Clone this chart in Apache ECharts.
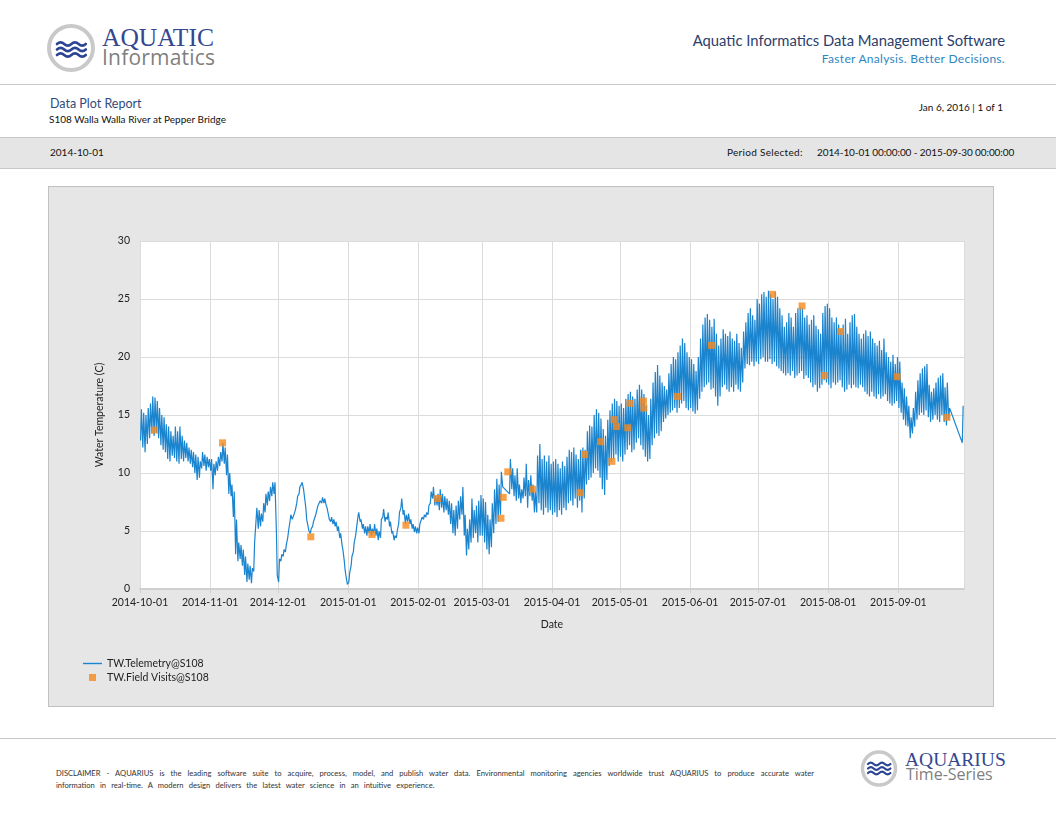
<!DOCTYPE html>
<html lang="en">
<head>
<meta charset="UTF-8">
<title>Data Plot Report</title>
<script src="https://cdn.jsdelivr.net/npm/echarts@6.0.0/dist/echarts.min.js"></script>
<style>
    html, body {
        margin: 0;
        padding: 0;
        width: 1056px;
        height: 816px;
        background: #fff;
        overflow: hidden;
        font-family: Lato, "Open Sans", sans-serif;
        color: #222;
    }

    .abs {
        position: absolute;
        white-space: nowrap;
        line-height: 1;
    }

    .rule {
        position: absolute;
        left: 0;
        width: 1056px;
        height: 0;
        border-top: 1px solid #c8c8c8;
    }

    #band {
        position: absolute;
        left: 0;
        top: 137px;
        width: 1056px;
        height: 30px;
        background: #e5e5e5;
        border-top: 1px solid #c8c8c8;
        border-bottom: 1px solid #c8c8c8;
    }

    #chart {
        position: absolute;
        left: 48px;
        top: 186px;
        width: 944px;
        height: 519px;
        background: #e6e6e6;
        border: 1px solid #c0c0c0;
    }
</style>
</head>

<body>
<!-- logos -->
<svg class="abs" style="left:0;top:0" width="1056" height="816">
    <circle cx="71" cy="48" r="22" fill="#fff" stroke="#c9c9c9" stroke-width="4"/>
    <g fill="none" stroke="#2b4494" stroke-width="2.6" stroke-linecap="round">
        <path d="M57 44 q3.6 -3.4 7.2 0 t7.2 0 t7.2 0 t7.2 0"/>
        <path d="M57 49.5 q3.6 -3.4 7.2 0 t7.2 0 t7.2 0 t7.2 0"/>
        <path d="M57 55 q3.6 -3.4 7.2 0 t7.2 0 t7.2 0 t7.2 0"/>
    </g>
    <circle cx="879" cy="768.5" r="16.5" fill="#fff" stroke="#c9c9c9" stroke-width="3.5"/>
    <g fill="none" stroke="#2b4494" stroke-width="2.2" stroke-linecap="round">
        <path d="M868 764 q2.8 -2.8 5.6 0 t5.6 0 t5.6 0 t5.6 0"/>
        <path d="M868 768.5 q2.8 -2.8 5.6 0 t5.6 0 t5.6 0 t5.6 0"/>
        <path d="M868 773 q2.8 -2.8 5.6 0 t5.6 0 t5.6 0 t5.6 0"/>
    </g>
</svg>

<div class="abs" style="left:102px;top:25px;font-family:'Liberation Serif',serif;font-size:25.5px;color:#34478f;">AQUATIC</div>
<div class="abs" style="left:102px;top:47px;font-family:'Open Sans',sans-serif;font-size:21px;color:#7f7f7f;letter-spacing:0.2px;">Informatics</div>

<div class="abs" style="right:51px;top:33px;font-size:14.8px;color:#2c3e6b;">Aquatic Informatics Data Management Software</div>
<div class="abs" style="right:51px;top:53px;font-size:12px;color:#2e86c1;letter-spacing:0.3px;">Faster Analysis. Better Decisions.</div>

<div class="rule" style="top:84px"></div>

<div class="abs" style="left:50px;top:98px;font-size:12.5px;color:#2f4b7c;">Data Plot Report</div>
<div class="abs" style="left:49px;top:114px;font-size:10px;color:#111;">S108 Walla Walla River at Pepper Bridge</div>
<div class="abs" style="right:53px;top:102px;font-size:10px;color:#111;">Jan 6, 2016 | 1 of 1</div>

<div id="band"></div>
<div class="abs" style="left:50px;top:147px;font-size:10px;color:#111;">2014-10-01</div>
<div class="abs" style="left:727px;top:147px;font-size:10px;color:#111;letter-spacing:0.3px;">Period Selected:</div>
<div class="abs" style="left:817px;top:147px;font-size:10px;color:#111;letter-spacing:-0.1px;">2014-10-01 00:00:00 - 2015-09-30 00:00:00</div>

<div id="chart"></div>

<div class="rule" style="top:738px"></div>

<div class="abs" style="left:56px;top:770px;width:758px;font-size:7.6px;color:#333;text-align:justify;text-align-last:justify;white-space:normal;">DISCLAIMER - AQUARIUS is the leading software suite to acquire, process, model, and publish water data. Environmental monitoring agencies worldwide trust AQUARIUS to produce accurate water</div>
<div class="abs" style="left:56px;top:782px;font-size:7.6px;color:#333;word-spacing:3.2px;">information in real-time. A modern design delivers the latest water science in an intuitive experience.</div>

<div class="abs" style="left:905px;top:750px;font-family:'Liberation Serif',serif;font-size:19.5px;color:#34478f;">AQUARIUS</div>
<div class="abs" style="left:906px;top:766px;font-family:'Open Sans',sans-serif;font-size:16px;color:#7f7f7f;">Time-Series</div>

<script type="text/javascript">
    // 06:00 and 15:00 readings for each day, 2014-10-01 .. 2015-09-30 (null = no data)
    var amTemps = [
        // Oct
        12.8, 12.2, 11.8, 12.5, 13.0, 13.4, 13.2, 13.5, 13.0, 12.4, 12.0, 11.8, 11.2, 11.0, 11.5, 11.3, 11.0, 10.8, 11.2, 11.0, 11.3, 11.0, 10.8, 10.5, 10.0, 9.4, 9.6, 10.4, 10.6, 10.2, 10.5,
        // Nov
        10.2, 8.6, 9.8, 10.2, 10.6, 11.0, 10.8, 9.8, 8.2, 8.0, 6.2, 3.0, 2.4, 2.6, 2.0, 1.2, 0.6, 0.8, 0.5, 1.5, 4.0, 5.2, 5.4, 5.8, 6.6, 7.2, 7.6, 8.0, 8.2, 5.0,
        // Dec
        0.6, 2.4, 2.8, 3.2, 4.4, 5.8, 6.0, 6.2, 7.4, 8.2, 9.0, 8.6, 7.0, 5.4, 4.8, 5.4, 5.8, 6.4, 7.2, 7.4, 7.4, 7.2, 6.4, 5.8, 5.6, 5.4, 5.0, 4.4, 3.8, 2.4, 0.8,
        // Jan
        0.6, 2.0, 3.2, 4.6, 6.2, 5.8, 5.2, 4.8, 4.6, 4.8, 4.6, 4.8, 4.6, 4.2, 4.4, 6.2, 5.8, 6.0, 5.4, 4.8, 4.2, 4.4, 5.6, 7.0, 6.4, 5.6, 5.8, 5.6, 5.2, 4.9, 4.8,
        // Feb
        4.8, 5.6, 6.0, 6.2, 6.4, 7.4, 7.8, 7.2, 7.2, 6.8, 7.0, 6.6, 6.8, 6.4, 5.6, 4.8, 4.6, 5.2, 6.0, 6.4, 4.6, 2.9, 3.4, 4.0, 4.4, 4.8, 4.0, 4.6,
        // Mar
        4.6, 4.0, 3.4, 3.0, 3.6, 4.8, 5.6, 5.8, 6.4, 8.8, null, null, 8.2, 8.6, 8.0, 7.6, 7.8, 7.4, 7.8, 8.0, 7.0, 8.0, 7.6, 6.6, 6.6, 7.4, 6.8, 6.4, 7.0, 6.6, 6.8,
        // Apr
        6.4, 6.6, 6.2, 6.8, 6.4, 7.0, 6.8, 7.4, 7.6, 7.2, 7.8, 7.0, 7.6, 6.6, 7.8, 9.0, 9.4, 9.6, 10.0, 10.4, 10.2, 9.6, 8.6, 8.1, 9.4, 10.6, 11.0, 11.2, 11.6, 11.0,
        // May
        11.4, 11.0, 11.6, 12.0, 12.4, 11.8, 12.0, 12.6, 13.0, 12.4, 12.0, 11.4, 11.0, 11.2, 12.4, 13.0, 13.4, 13.2, 13.6, 14.4, 14.7, 15.0, 15.2, 15.4, 15.6, 15.2, 15.6, 16.0, 16.2, 15.6, 15.4,
        // Jun
        15.6, 15.3, 15.1, 15.4, 16.4, 17.0, 17.4, 17.6, 17.8, 17.2, 17.3, 16.6, 15.8, 16.6, 17.4, 17.6, 17.2, 17.0, 17.4, 17.0, 17.6, 17.2, 17.0, 17.8, 19.0, 19.4, 19.3, 19.6, 19.2, 19.6,
        // Jul
        19.4, 19.8, 20.0, 19.6, 19.6, 19.8, 19.4, 19.6, 19.2, 19.0, 18.8, 18.6, 18.4, 18.6, 18.4, 18.8, 18.2, 18.4, 18.6, 18.8, 18.1, 18.4, 18.2, 17.8, 17.4, 17.6, 17.0, 17.3, 17.6, 18.0, 17.8,
        // Aug
        17.6, 17.3, 17.8, 17.6, 17.8, 18.0, 17.4, 17.0, 17.2, 17.6, 17.3, 17.6, 17.4, 17.3, 17.6, 17.4, 17.0, 16.8, 16.6, 17.0, 16.6, 16.4, 16.8, 16.4, 16.6, 16.8, 16.2, 16.0, 15.8, 16.0, 16.2,
        // Sep
        15.6, 15.2, 14.6, 14.1, 14.0, 13.0, 13.4, 14.0, 14.6, 15.0, 15.2, 15.0, 15.4, 14.8, 14.4, 14.6, 15.0, 14.6, 14.4, 15.0, 14.4, 14.1, 14.6, null, null, null, null, null, 12.6, null
    ];

    var pmTemps = [
        // Oct
        15.5, 15.2, 15.0, 15.6, 16.0, 16.6, 16.5, 16.2, 15.6, 15.0, 14.8, 14.2, 14.0, 13.6, 13.2, 14.0, 13.6, 14.0, 13.2, 12.8, 12.6, 12.2, 12.0, 11.8, 11.6, 11.4, 11.0, 11.8, 11.6, 11.4, 11.2,
        // Nov
        11.2, 10.8, 11.0, 11.4, 11.8, 12.6, 12.2, 11.6, 10.0, 9.0, 8.4, 6.0, 4.0, 3.8, 3.4, 2.8, 2.2, 2.0, 1.8, 4.0, 7.0, 6.8, 6.5, 7.4, 8.2, 8.4, 8.8, 9.2, 9.2, 1.2,
        // Dec
        2.6, 3.0, 3.4, 3.8, 5.0, 6.4, 6.2, 6.8, 8.0, 8.8, 9.2, 8.0, 6.0, 5.0, 5.2, 5.8, 6.4, 7.2, 7.6, 7.9, 7.8, 7.0, 6.0, 6.2, 6.0, 5.8, 5.4, 4.8, 3.4, 1.6, 0.4,
        // Jan
        1.4, 2.8, 4.0, 5.2, 6.6, 6.0, 5.6, 5.4, 5.4, 5.6, 5.2, 5.6, 5.2, 5.0, 6.0, 6.9, 6.2, 6.6, 5.8, 5.0, 4.6, 5.0, 6.6, 7.8, 6.8, 6.4, 6.5, 6.0, 5.6, 5.4, 5.3,
        // Feb
        5.6, 6.2, 6.4, 6.6, 7.2, 8.4, 8.8, 8.0, 8.2, 8.6, 8.2, 8.0, 7.8, 7.6, 7.4, 6.8, 7.2, 7.6, 8.0, 8.8, 6.4, 5.2, 6.0, 7.8, 6.8, 7.2, 7.6, 8.1,
        // Mar
        7.8, 7.5, 6.4, 6.0, 7.4, 8.6, 9.5, 9.0, 10.1, null, null, null, 11.2, 10.4, 9.8, 10.4, 9.0, 8.6, 9.6, 10.8, 9.4, 9.8, 9.0, 8.4, 11.5, 12.5, 11.2, 11.5, 11.0, 11.5, 10.8,
        // Apr
        11.0, 11.2, 10.8, 10.4, 11.0, 10.6, 11.4, 12.0, 11.8, 12.2, 11.6, 11.2, 12.0, 12.2, 12.0, 13.6, 14.1, 14.0, 15.0, 15.5, 15.2, 14.7, 13.8, 13.2, 14.6, 15.4, 16.0, 16.4, 16.2, 15.8,
        // May
        16.0, 15.6, 16.4, 16.8, 17.0, 16.6, 16.4, 17.2, 17.6, 17.2, 16.8, 15.8, 15.0, 16.4, 17.8, 18.7, 19.3, 18.4, 17.8, 17.5, 17.2, 18.6, 19.4, 20.0, 19.8, 20.4, 21.0, 21.6, 21.2, 20.4, 20.0,
        // Jun
        19.8, 19.4, 18.8, 20.0, 21.6, 22.8, 23.4, 23.7, 23.2, 22.6, 23.3, 22.0, 21.0, 21.6, 22.4, 22.0, 21.8, 22.2, 21.6, 21.4, 22.0, 21.2, 20.8, 22.2, 23.0, 23.8, 24.2, 23.6, 23.2, 25.0,
        // Jul
        24.6, 25.4, 25.6, 25.2, 25.7, 25.4, 25.0, 25.6, 25.2, 24.2, 23.6, 22.6, 23.0, 23.8, 23.4, 22.6, 23.8, 24.2, 24.3, 24.2, 23.4, 23.6, 22.8, 23.2, 23.6, 22.7, 22.4, 22.0, 23.8, 24.4, 24.6,
        // Aug
        24.2, 23.4, 23.0, 23.4, 22.8, 22.4, 22.8, 23.3, 22.0, 23.0, 23.6, 23.7, 22.6, 22.0, 21.6, 22.0, 22.3, 21.8, 22.2, 21.6, 21.2, 21.0, 21.4, 20.6, 21.6, 20.4, 20.0, 19.6, 20.2, 19.4, 20.0,
        // Sep
        19.6, 17.8, 17.3, 16.6, 15.8, 14.8, 15.6, 17.0, 18.0, 18.6, 19.0, 19.2, 19.4, 17.6, 17.0, 17.3, 17.8, 18.2, 18.4, 18.6, 17.4, 17.8, 15.6, null, null, null, null, null, 15.8, null
    ];

    // field visit measurements
    var visitTimes = [
        '2014-10-07 10:00', '2014-11-06 11:00', '2014-12-15 11:00', '2015-01-11 11:00', '2015-01-26 11:00',
        '2015-02-09 11:00', '2015-03-09 11:00', '2015-03-10 11:00', '2015-03-12 11:00', '2015-03-23 11:00',
        '2015-04-13 11:00', '2015-04-15 11:00', '2015-04-22 11:00', '2015-04-27 11:00', '2015-04-28 11:00',
        '2015-04-29 11:00', '2015-05-04 11:00', '2015-05-05 11:00', '2015-05-11 10:00', '2015-05-11 14:00',
        '2015-05-26 11:00', '2015-06-10 11:00', '2015-07-07 11:00', '2015-07-20 11:00', '2015-07-30 11:00',
        '2015-08-06 11:00', '2015-08-31 11:00', '2015-09-22 11:00'
    ];
    var visitValues = [
        13.7, 12.6, 4.5, 4.7, 5.5,
        7.8, 6.1, 7.9, 10.1, 8.6,
        8.3, 11.6, 12.7, 11.0, 14.6,
        14.0, 13.9, 16.0, 16.2, 15.6,
        16.6, 21.0, 25.4, 24.4, 18.4,
        22.2, 18.3, 14.8
    ];

    var DAY = 24 * 3600 * 1000;

    var telemetry = [];
    for (var i = 0; i < amTemps.length; i++) {
        if (amTemps[i] != null) telemetry.push([new Date(2014, 9, 1 + i, 6).getTime(), amTemps[i]]);
        if (pmTemps[i] != null) telemetry.push([new Date(2014, 9, 1 + i, 15).getTime(), pmTemps[i]]);
    }

    var visits = visitTimes.map(function (t, k) {
        return [t, visitValues[k]];
    });

    function pad(n) {
        return n < 10 ? '0' + n : '' + n;
    }

    var myChart = echarts.init(document.getElementById('chart'));

    var option = {
        animation: false,
        textStyle: { fontFamily: 'Lato' },
        grid: {
            left: 91,
            right: 29,
            top: 54,
            bottom: 117,
            show: true,
            backgroundColor: '#fff',
            borderWidth: 0
        },
        legend: [
            {
                // thin bar stands in for the line sample
                data: [{ name: 'TW.Telemetry@S108', icon: 'rect' }],
                left: 34,
                top: 471,
                padding: 0,
                itemWidth: 19,
                itemHeight: 1.4,
                textStyle: { fontSize: 10.5, color: '#222' }
            },
            {
                data: [{ name: 'TW.Field Visits@S108', icon: 'rect' }],
                left: 40,
                top: 485,
                padding: 0,
                itemWidth: 7,
                itemHeight: 7,
                textStyle: { fontSize: 10.5, color: '#222', padding: [0, 0, 0, 6] }
            }
        ],
        xAxis: {
            type: 'time',
            min: new Date(2014, 9, 1).getTime(),
            max: new Date(2015, 8, 30).getTime(),
            minInterval: 28 * DAY,
            maxInterval: 31 * DAY,
            name: 'Date',
            nameLocation: 'middle',
            nameGap: 30,
            nameTextStyle: { fontSize: 10.5, color: '#222' },
            axisLine: { lineStyle: { color: '#cfcfcf', width: 2 } },
            axisTick: { show: true, length: 4, lineStyle: { color: '#cfcfcf' } },
            splitLine: { show: true, lineStyle: { color: '#dcdcdc' } },
            axisLabel: {
                fontSize: 10.5,
                color: '#222',
                margin: 8,
                formatter: function (v) {
                    var d = new Date(v);
                    return d.getFullYear() + '-' + pad(d.getMonth() + 1) + '-' + pad(d.getDate());
                }
            }
        },
        yAxis: {
            type: 'value',
            min: 0,
            max: 30,
            interval: 5,
            name: 'Water Temperature (C)',
            nameLocation: 'middle',
            nameGap: 35,
            nameTextStyle: { fontSize: 10.5, color: '#222' },
            axisLine: { show: true, lineStyle: { color: '#dcdcdc' } },
            axisTick: { show: false },
            splitLine: { lineStyle: { color: '#dcdcdc' } },
            axisLabel: { fontSize: 10.5, color: '#222', margin: 10 }
        },
        series: [
            {
                name: 'TW.Telemetry@S108',
                type: 'line',
                data: telemetry,
                showSymbol: false,
                symbol: 'none',
                lineStyle: { color: '#1b84cf', width: 1.2 },
                itemStyle: { color: '#1b84cf' },
                z: 2
            },
            {
                name: 'TW.Field Visits@S108',
                type: 'scatter',
                data: visits,
                symbol: 'rect',
                symbolSize: 7,
                itemStyle: { color: '#f68a1e' },
                z: 3
            }
        ]
    };

    myChart.setOption(option);
</script>
</body>
</html>
